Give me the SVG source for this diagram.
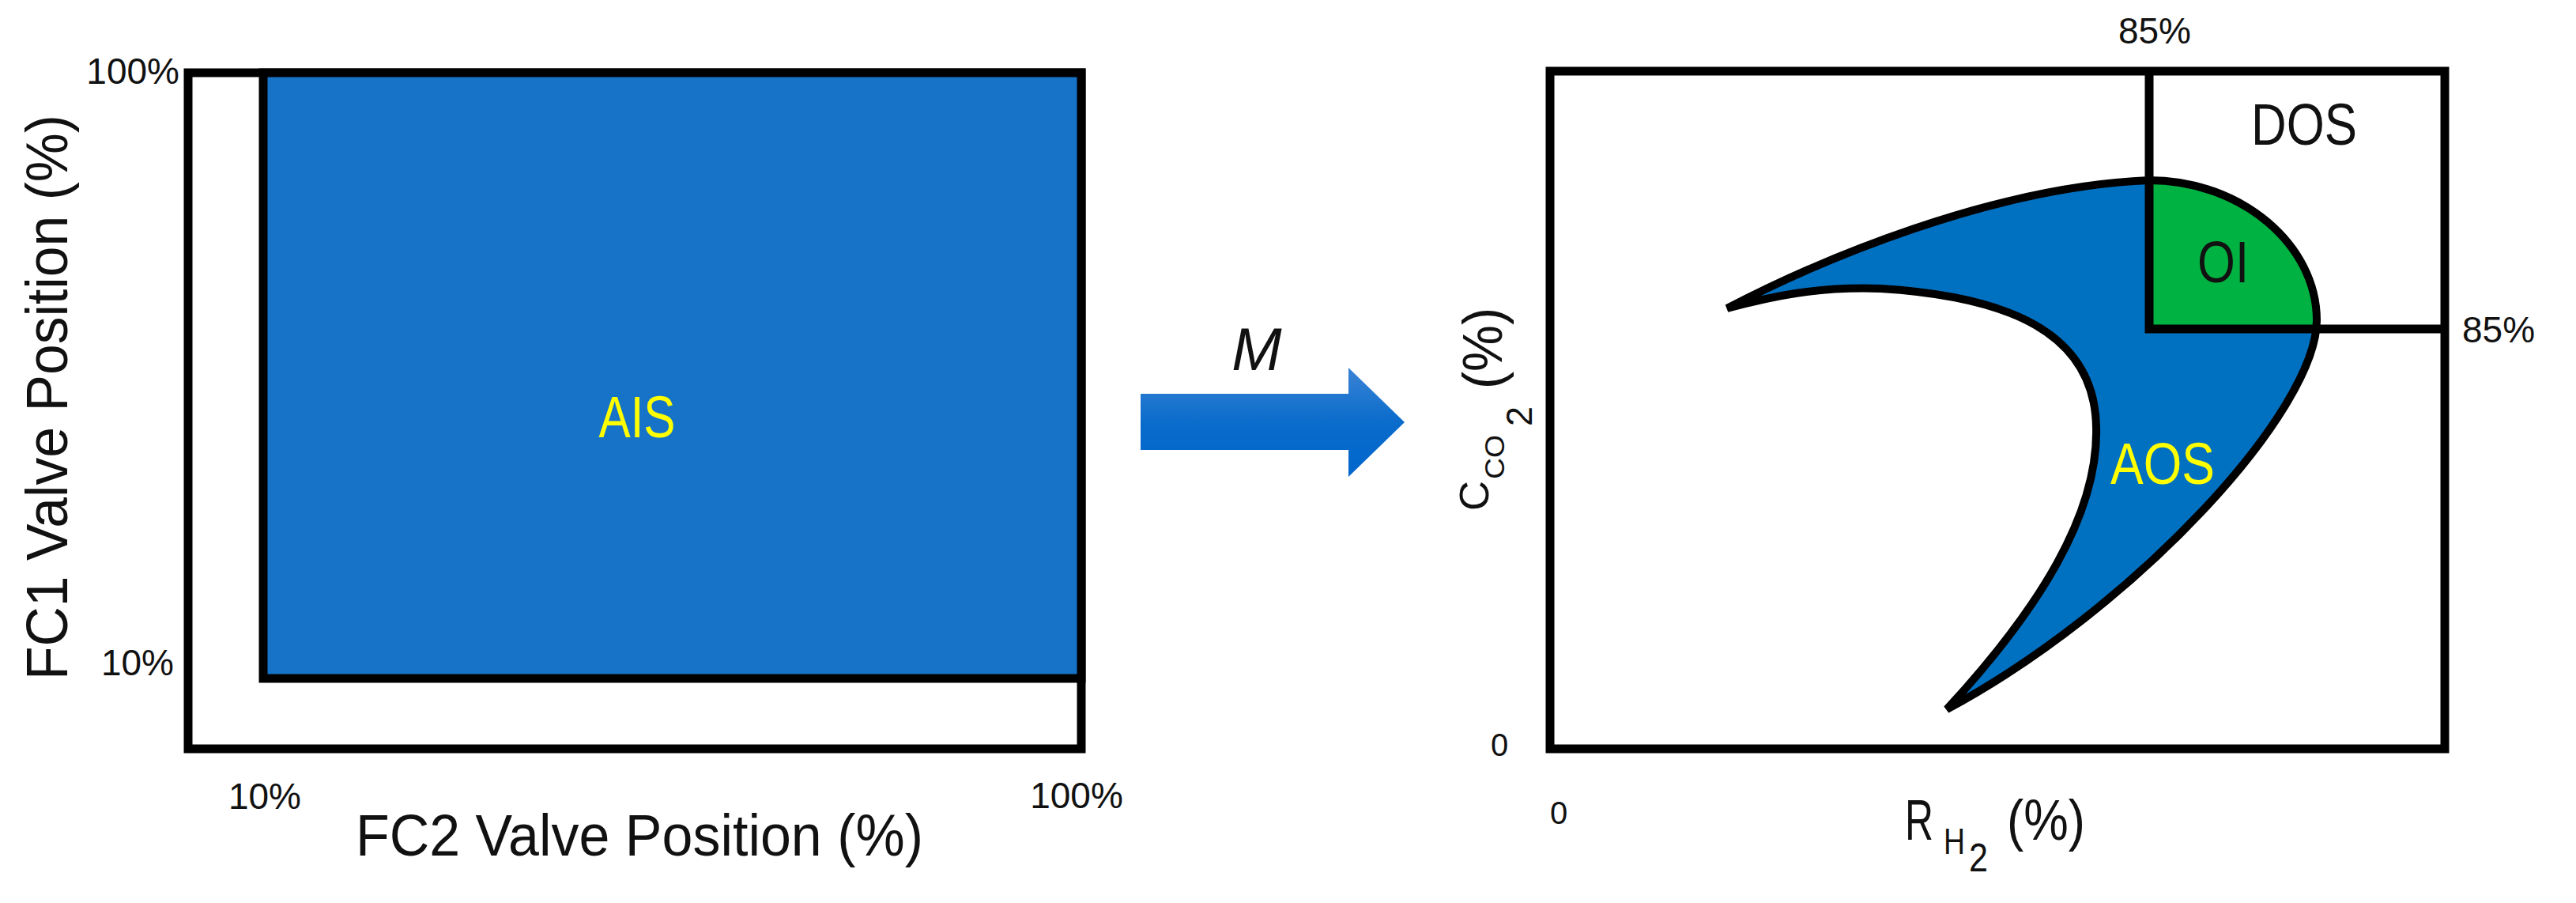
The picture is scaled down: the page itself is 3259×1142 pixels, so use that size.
<svg xmlns="http://www.w3.org/2000/svg" width="3259" height="1142" viewBox="0 0 3259 1142">
<defs>
<linearGradient id="arrowGrad" x1="0" y1="0" x2="0" y2="1">
<stop offset="0" stop-color="#3A84D6"/>
<stop offset="0.5" stop-color="#0A6CCB"/>
<stop offset="1" stop-color="#0066CC"/>
</linearGradient>
<style>
text{font-family:"Liberation Sans",Arial,sans-serif;fill:#111}
.tick{font-size:46px}
.axis{font-size:74px}
.frame{fill:none;stroke:#000;stroke-width:11}
.region{font-size:75px}
.yellow{fill:#FFFF00}
</style>
</defs>
<rect width="3259" height="1142" fill="#fff"/>

<g id="input-space">
<rect class="frame" x="238" y="92" width="1130" height="855"/>
<rect x="333" y="92" width="1035" height="766" fill="#1773C8" stroke="#000" stroke-width="11"/>
<text class="region yellow" x="806" y="553" text-anchor="middle" textLength="97" lengthAdjust="spacingAndGlyphs">AIS</text>
<text class="tick" x="227" y="106" text-anchor="end">100%</text>
<text class="tick" x="220" y="854" text-anchor="end">10%</text>
<text class="tick" x="335" y="1023" text-anchor="middle">10%</text>
<text class="tick" x="1362" y="1022" text-anchor="middle">100%</text>
<text class="axis" x="450" y="1082" textLength="718" lengthAdjust="spacingAndGlyphs">FC2 Valve Position (%)</text>
<text class="axis" transform="rotate(-90)" x="-860" y="85" textLength="715" lengthAdjust="spacingAndGlyphs">FC1 Valve Position (%)</text>
</g>

<g id="connectors">
<polygon points="1443,498 1706,498 1706,465 1777,534 1706,603 1706,569 1443,569" fill="url(#arrowGrad)"/>
<text x="1590" y="468" text-anchor="middle" font-size="76" font-style="italic">M</text>
</g>

<g id="output-space">
<path d="M2185 390 C2300 330 2520 236 2719 228 C2836 228 2931 310 2931 405 C2931 520 2700 770 2463 897 C2580 770 2655 650 2652 540 C2650 420 2540 375 2380 365 C2300 362 2240 375 2185 390 Z" fill="#0070C0"/>
<path d="M2719 228 C2836 228 2931 310 2931 405 L2931 416 L2719 416 Z" fill="#00B241"/>
<path d="M2185 390 C2300 330 2520 236 2719 228 C2836 228 2931 310 2931 405 C2931 520 2700 770 2463 897 C2580 770 2655 650 2652 540 C2650 420 2540 375 2380 365 C2300 362 2240 375 2185 390 Z" fill="none" stroke="#000" stroke-width="10" stroke-linejoin="miter"/>
<rect class="frame" x="1961" y="90" width="1132" height="857"/>
<path d="M2719 90 V416 H3093" fill="none" stroke="#000" stroke-width="11"/>
<text class="region yellow" x="2670" y="612" textLength="132" lengthAdjust="spacingAndGlyphs">AOS</text>
<text class="region" x="2780" y="357" font-size="72" textLength="65" lengthAdjust="spacingAndGlyphs">OI</text>
<text class="region" x="2848" y="183" font-size="71" textLength="134" lengthAdjust="spacingAndGlyphs">DOS</text>
<text class="tick" x="2726" y="55" text-anchor="middle">85%</text>
<text class="tick" x="3115" y="433">85%</text>
<text x="1897" y="956" font-size="40" text-anchor="middle">0</text>
<text x="1972" y="1042" font-size="40" text-anchor="middle">0</text>
<text font-size="72"><tspan x="2410" y="1062" textLength="36" lengthAdjust="spacingAndGlyphs">R</tspan><tspan x="2459" y="1080" font-size="46" textLength="27" lengthAdjust="spacingAndGlyphs">H</tspan><tspan x="2491" y="1102" font-size="50" textLength="24" lengthAdjust="spacingAndGlyphs">2</tspan><tspan x="2539" y="1062" font-size="72" textLength="99" lengthAdjust="spacingAndGlyphs">(%)</tspan></text>
<text transform="rotate(-90)" font-size="52"><tspan x="-646" y="1883" textLength="38" lengthAdjust="spacingAndGlyphs">C</tspan><tspan x="-606" y="1903" font-size="35" textLength="56" lengthAdjust="spacingAndGlyphs">CO</tspan><tspan x="-539" y="1938" font-size="47" textLength="25" lengthAdjust="spacingAndGlyphs">2</tspan><tspan x="-492" y="1900" font-size="70" textLength="103" lengthAdjust="spacingAndGlyphs">(%)</tspan></text>
</g>
</svg>
